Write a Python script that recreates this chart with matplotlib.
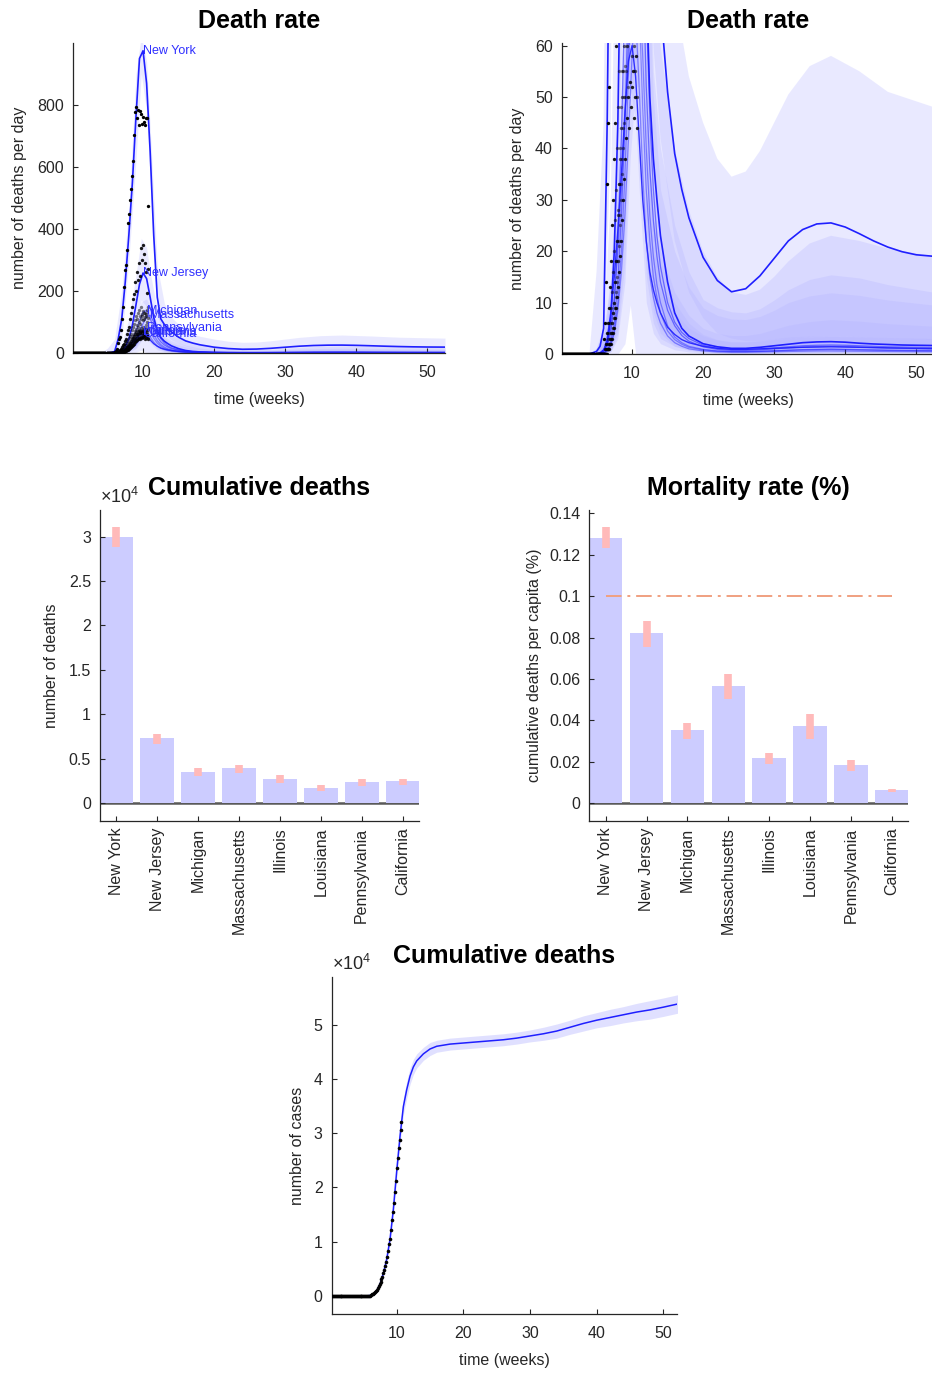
import numpy as np
import matplotlib
matplotlib.use("Agg")
import matplotlib.pyplot as plt

plt.rcParams["font.family"] = ["Liberation Sans", "DejaVu Sans"]
plt.rcParams["mathtext.fontset"] = "custom"
plt.rcParams["mathtext.rm"] = "Liberation Sans"
plt.rcParams["mathtext.it"] = "Liberation Sans:italic"
plt.rcParams["text.color"] = "#262626"
plt.rcParams["axes.labelcolor"] = "#262626"

states = ["New York", "New Jersey", "Michigan", "Massachusetts",
          "Illinois", "Louisiana", "Pennsylvania", "California"]

# ---- model death rate per day (weeks grid) ----
model_weeks = [0.14, 4, 5, 5.5, 6, 6.5, 7, 7.5, 8, 8.5, 9, 9.5, 10, 10.5, 11, 11.5, 12, 12.5, 13, 13.5,
               14, 15, 16, 17, 18, 20, 22, 24, 26, 28, 30, 32, 34, 36, 38, 40, 42, 44, 46, 48, 50, 52.5]
rate_ny = [0, 0, 0.5, 1.5, 5, 45, 110, 230, 380, 550, 760, 950, 975, 870, 650, 380, 180, 110, 92, 80,
           68, 51, 39, 32, 26.5, 18.8, 14.3, 12.1, 12.7, 15.2, 18.6, 22, 24.2, 25.3, 25.5, 24.7, 23.4, 22, 20.8, 19.9, 19.3, 19]
rate_nj = [0, 0, 0, 0.2, 0.8, 2, 7, 20, 45, 90, 155, 222, 258, 240, 180, 115, 72, 50, 38, 30,
           23, 14, 8, 5, 3.5, 2, 1.4, 1.1, 1.1, 1.3, 1.6, 1.9, 2.2, 2.35, 2.4, 2.3, 2.1, 1.95, 1.85, 1.75, 1.7, 1.65]
rate_mi = [0, 0, 0, 0.1, 0.5, 1.5, 4, 10, 22, 42, 70, 105, 132, 137, 112, 78, 52, 36, 26, 19,
           14, 8.5, 5.5, 3.6, 2.5, 1.4, 0.9, 0.7, 0.7, 0.8, 1.0, 1.2, 1.35, 1.45, 1.5, 1.45, 1.35, 1.25, 1.15, 1.1, 1.05, 1.0]
rate_ma = [0, 0, 0, 0, 0.2, 0.8, 2.5, 6, 14, 27, 45, 70, 95, 116, 122, 100, 68, 46, 32, 23,
           17, 10, 6.2, 4.2, 3, 1.7, 1.1, 0.9, 0.9, 1.0, 1.2, 1.4, 1.6, 1.7, 1.75, 1.7, 1.6, 1.5, 1.4, 1.35, 1.3, 1.25]
rate_il = [0, 0, 0, 0, 0.2, 0.6, 1.6, 4, 8.5, 16, 27, 42, 58, 71, 72, 58, 40, 27, 19, 13.5,
           10, 5.5, 3.3, 2.2, 1.5, 0.9, 0.6, 0.5, 0.5, 0.55, 0.65, 0.75, 0.85, 0.9, 0.95, 0.9, 0.85, 0.8, 0.75, 0.72, 0.7, 0.68]
rate_la = [0, 0, 0, 0.1, 0.6, 2, 5, 11, 20, 32, 46, 60, 69, 66, 52, 35, 22, 15, 11, 8,
           6, 3.5, 2.2, 1.5, 1.0, 0.6, 0.4, 0.35, 0.35, 0.4, 0.45, 0.5, 0.55, 0.6, 0.6, 0.58, 0.55, 0.52, 0.5, 0.48, 0.46, 0.45]
rate_pa = [0, 0, 0, 0, 0.2, 0.6, 1.8, 4.5, 10, 20, 35, 55, 74, 80, 68, 48, 32, 22, 15, 11,
           8, 4.5, 2.8, 1.9, 1.3, 0.8, 0.55, 0.45, 0.45, 0.5, 0.6, 0.7, 0.8, 0.85, 0.9, 0.85, 0.8, 0.75, 0.7, 0.68, 0.65, 0.62]
rate_ca = [0, 0, 0, 0.2, 0.6, 3, 8, 15, 24, 35, 47, 57, 60, 54, 42, 30, 22, 16, 12.5, 10,
           8, 5.2, 3.8, 2.8, 2.2, 1.5, 1.1, 0.9, 0.9, 1.0, 1.1, 1.2, 1.3, 1.35, 1.4, 1.35, 1.3, 1.25, 1.2, 1.15, 1.1, 1.05]

# ---- uncertainty bands of the death rate ----
band_weeks = [0.14, 4, 5, 6, 7, 8, 9, 9.75, 10.5, 11, 12, 13, 14, 16, 18, 20, 22, 24, 26, 28,
              30, 32, 35, 38, 42, 46, 52.5]
hi_ny = [0, 0, 16, 45, 200, 470, 900, 1025, 940, 730, 280, 160, 115, 70, 54, 45, 38, 34.5, 35.5, 39.5, 45, 50.5, 56, 58, 55, 51, 48]
lo_ny = [0, 0, 0, 0, 40, 300, 620, 900, 780, 560, 120, 60, 42, 22, 12, 7, 4, 3, 2.5, 2.5, 2.8, 3, 3.3, 3.5, 3.3, 3, 2.8]
hi_nj = [0, 0, 1, 5, 30, 110, 250, 370, 340, 260, 140, 85, 60, 40, 28, 20, 15, 12, 11.5, 12.5, 15, 18, 21.5, 23, 22, 20.5, 19]
lo_nj = [0, 0, 0, 0, 3, 25, 90, 170, 150, 100, 35, 14, 6, 2, 1, 0.5, 0.4, 0.3, 0.3, 0.3, 0.4, 0.4, 0.5, 0.5, 0.5, 0.5, 0.5]
hi_mi = [0, 0, 1, 4, 15, 45, 110, 165, 175, 150, 85, 50, 32, 20, 13, 9, 7.5, 6.8, 6.7, 7.3, 8.5, 10, 11.3, 11.9, 11.4, 10.5, 9.5]
lo_mi = [0, 0, 0, 0, 1, 10, 40, 85, 95, 75, 25, 10, 5, 2, 1, 0.5, 0.3, 0.2, 0.2, 0.2, 0.3, 0.3, 0.3, 0.4, 0.4, 0.3, 0.3]
hi_ma = [0, 0, 0.5, 2, 8, 30, 75, 125, 155, 150, 95, 55, 40, 25, 16, 10.6, 9, 8.2, 8, 8.8, 10.5, 12.5, 14.5, 15.4, 14.8, 13.5, 12]
lo_ma = [0, 0, 0, 0, 0.5, 5, 25, 65, 85, 85, 35, 14, 7, 3, 1.5, 0.8, 0.5, 0.4, 0.4, 0.4, 0.5, 0.5, 0.6, 0.6, 0.6, 0.5, 0.5]
hi_il = [0, 0, 0.5, 2, 6, 18, 42, 75, 92, 88, 55, 28, 18, 10, 6, 3.8, 2.8, 2.4, 2.4, 2.6, 3.0, 3.3, 3.5, 3.6, 3.4, 3.2, 3.0]
lo_il = [0, 0, 0, 0, 0.4, 3, 14, 38, 52, 52, 22, 8, 4, 1.5, 0.7, 0.4, 0.3, 0.2, 0.2, 0.2, 0.2, 0.3, 0.3, 0.3, 0.3, 0.3, 0.3]
hi_la = [0, 0, 1, 3, 12, 30, 62, 85, 80, 62, 30, 16, 12, 6, 3.5, 2.2, 1.6, 1.3, 1.3, 1.5, 1.7, 1.9, 2.1, 2.2, 2.1, 2.0, 1.9]
lo_la = [0, 0, 0, 0, 1, 8, 28, 52, 45, 32, 10, 4, 2, 0.8, 0.4, 0.2, 0.1, 0.1, 0.1, 0.1, 0.1, 0.2, 0.2, 0.2, 0.2, 0.2, 0.2]
hi_pa = [0, 0, 0.5, 2, 7, 22, 55, 90, 100, 85, 45, 25, 20, 12, 7.5, 5, 4, 3.6, 3.6, 4, 4.8, 5.6, 6.3, 6.7, 6.4, 5.9, 5.4]
lo_pa = [0, 0, 0, 0, 0.5, 4, 18, 50, 55, 45, 15, 6, 3, 1.5, 0.8, 0.4, 0.3, 0.2, 0.2, 0.2, 0.3, 0.3, 0.3, 0.3, 0.3, 0.3, 0.3]
hi_ca = [0, 0, 1, 4, 14, 35, 62, 72, 68, 55, 32, 20, 15, 8, 5, 3.5, 2.7, 2.3, 2.3, 2.5, 2.8, 3.1, 3.3, 3.4, 3.3, 3.1, 3.0]
lo_ca = [0, 0, 0, 0, 0, 0, 2, 9.5, 0, 0, 0, 0, 0, 0, 0, 0, 0, 0, 0, 0, 0, 0, 0, 0, 0, 0, 0]

# ---- observed daily deaths (days 1..41 are all zero, then days 42..75) ----
early_obs = [0, 0, 0, 0, 0, 0, 0, 0, 0, 0, 0, 0, 0, 0, 0, 0, 0, 0, 0, 0, 0,
             0, 0, 0, 0, 0, 0, 0, 0, 0, 0, 0, 0, 0, 0, 0, 0, 0, 0, 0, 0]
obs_ny = [3, 6, 14, 33, 45, 52, 75, 110, 150, 214, 268, 284, 332, 419, 450, 494, 530, 571, 620, 703,
          778, 792, 757, 785, 735, 780, 770, 740, 760, 745, 735, 757, 757, 475]
obs_nj = [0, 1, 2, 4, 6, 9, 13, 18, 25, 30, 38, 45, 60, 75, 85, 110, 130, 150, 175, 190,
          230, 200, 260, 235, 290, 250, 340, 300, 350, 320, 290, 260, 195, 270]
obs_mi = [0, 0, 1, 2, 3, 4, 6, 9, 12, 16, 20, 26, 32, 40, 48, 55, 62, 75, 85, 95,
          105, 118, 110, 128, 140, 118, 150, 125, 135, 110, 130, 118, 100, 112]
obs_ma = [0, 0, 0, 1, 1, 2, 3, 4, 6, 8, 10, 14, 18, 22, 28, 33, 40, 48, 55, 62,
          70, 78, 90, 85, 100, 95, 110, 120, 105, 130, 115, 125, 140, 150]
obs_il = [0, 0, 0, 1, 1, 2, 2, 3, 4, 5, 7, 9, 11, 14, 18, 21, 25, 30, 35, 40,
          45, 50, 55, 60, 52, 68, 62, 75, 70, 66, 80, 72, 68, 78]
obs_la = [0, 0, 0, 1, 1, 2, 3, 4, 6, 8, 10, 14, 18, 22, 27, 33, 38, 44, 50, 55,
          60, 68, 62, 70, 75, 65, 72, 68, 58, 66, 60, 55, 62, 50]
obs_pa = [0, 0, 0, 0, 1, 1, 2, 3, 4, 5, 7, 9, 12, 15, 18, 22, 27, 33, 38, 44,
          50, 56, 62, 60, 70, 65, 80, 72, 85, 78, 70, 90, 75, 82]
obs_ca = [0, 0, 0, 0, 1, 1, 2, 2, 3, 4, 5, 7, 9, 11, 13, 16, 19, 22, 26, 30,
          34, 38, 42, 46, 50, 44, 53, 48, 52, 55, 46, 50, 58, 44]

# ---- cumulative deaths and mortality per state ----
cum_deaths = [30000, 7330, 3530, 3900, 2740, 1720, 2370, 2480]
cum_lo = [28800, 6600, 3000, 3400, 2300, 1400, 1950, 2000]
cum_hi = [31100, 7800, 3900, 4300, 3100, 2000, 2700, 2700]
mortality = [0.128, 0.0821, 0.0354, 0.0566, 0.0217, 0.0373, 0.0185, 0.0064]
mortality_lo = [0.1234, 0.0756, 0.0312, 0.0504, 0.0188, 0.0310, 0.0157, 0.0053]
mortality_hi = [0.1333, 0.0882, 0.0389, 0.0623, 0.0241, 0.0430, 0.0208, 0.0070]
mortality_ref = 0.1

# ---- total cumulative deaths ----
total_weeks = [0.14, 4, 5, 6, 6.5, 7, 7.5, 8, 8.5, 9, 9.5, 10, 10.5, 11, 11.5, 12, 12.5, 13, 14, 15,
               16, 18, 20, 22, 24, 26, 28, 30, 32, 34, 36, 38, 40, 42, 44, 46, 48, 50, 52.2]
total_model = [0, 0, 0, 100, 300, 1000, 2200, 4200, 6800, 10500, 16000, 23000, 29500, 34900, 38000,
               40500, 42200, 43300, 44600, 45500, 46000, 46400, 46600, 46800, 47000, 47200, 47500,
               47900, 48300, 48800, 49500, 50200, 50800, 51300, 51800, 52300, 52700, 53200, 53800]
total_hi = [0, 0, 0, 200, 500, 1300, 2700, 4800, 7600, 11400, 17200, 24400, 31000, 36400, 39600,
            42000, 43600, 44600, 45800, 46700, 47100, 47500, 47700, 47900, 48100, 48300, 48600,
            49000, 49500, 50100, 50800, 51600, 52200, 52800, 53300, 53900, 54400, 54900, 55500]
total_lo = [0, 0, 0, 0, 100, 700, 1700, 3600, 6000, 9600, 14800, 21600, 28000, 33400, 36400,
            39000, 40800, 42000, 43400, 44300, 44900, 45300, 45500, 45700, 45900, 46100, 46400,
            46800, 47100, 47500, 48200, 48800, 49400, 49800, 50300, 50700, 51000, 51500, 52100]
total_obs = [100, 200, 300, 400, 600, 800, 1000, 1200, 1500, 1800, 2200, 2600, 3100, 3600, 4200,
             4800, 5500, 6200, 7200, 8300, 9500, 10500, 12200, 14000, 15500, 17200, 19200, 21200,
             23500, 25500, 27200, 28800, 30500, 32000]

rate = dict(zip(states, [rate_ny, rate_nj, rate_mi, rate_ma, rate_il, rate_la, rate_pa, rate_ca]))
band_hi = dict(zip(states, [hi_ny, hi_nj, hi_mi, hi_ma, hi_il, hi_la, hi_pa, hi_ca]))
band_lo = dict(zip(states, [lo_ny, lo_nj, lo_mi, lo_ma, lo_il, lo_la, lo_pa, lo_ca]))
obs = dict(zip(states, [obs_ny, obs_nj, obs_mi, obs_ma, obs_il, obs_la, obs_pa, obs_ca]))

# styles
blue = "#1f1fff"
band_color = "#b3b3ff"
line_w = dict(zip(states, [1.2, 1.2, 0.9, 0.9, 0.9, 0.9, 0.9, 1.0]))
line_a = dict(zip(states, [1.0, 1.0, 0.55, 0.55, 0.45, 0.45, 0.45, 0.9]))
dot_a = dict(zip(states, [1.0, 0.9, 0.5, 0.5, 0.45, 0.6, 0.45, 0.85]))
title_kw = dict(fontsize=18, fontweight="bold", color="k", pad=10.5)

obs_weeks = np.arange(1, 76) / 7


def style_axes(ax, xpad=8.5):
    for s in ["top", "right"]:
        ax.spines[s].set_visible(False)
    for s in ["left", "bottom"]:
        ax.spines[s].set_color("#262626")
        ax.spines[s].set_linewidth(0.9)
    ax.tick_params(direction="in", length=3.5, width=0.8, colors="#262626", labelsize=11.5)
    ax.tick_params(axis="y", pad=6.5)
    ax.tick_params(axis="x", pad=xpad)


def draw_rates(ax, with_labels):
    for st in states:
        ax.fill_between(band_weeks, band_lo[st], band_hi[st], color=band_color, alpha=0.28, lw=0, zorder=1)
    for st in states:
        ax.plot(model_weeks, rate[st], color=blue, lw=line_w[st], alpha=line_a[st], zorder=2)
    for st in states:
        ax.plot(obs_weeks, early_obs + obs[st], "o", ms=2.4, color="k", mec="none",
                alpha=dot_a[st], zorder=3)
    if with_labels:
        for st in states:
            i = int(np.argmax(rate[st]))
            ax.text(model_weeks[i], rate[st][i], st, color="#3030ff", fontsize=9,
                    ha="left", va="center", zorder=4)
    ax.set_xlim(0.14, 52.5)
    ax.set_xticks([10, 20, 30, 40, 50])
    ax.set_xlabel("time (weeks)", fontsize=11.5, labelpad=9)
    ax.set_ylabel("number of deaths per day", fontsize=11.5, labelpad=7)
    ax.set_title("Death rate", **title_kw)
    style_axes(ax)


def draw_bars(ax, values, lo, hi, scale):
    x = np.arange(1, len(states) + 1)
    ax.axhline(0, color="#595959", lw=1.8, zorder=0)
    ax.bar(x, np.array(values) / scale, width=0.82, color="#ccccff", zorder=1)
    ax.vlines(x, np.array(lo) / scale, np.array(hi) / scale, color="#ffbaba", lw=5.5, zorder=2)
    ax.set_xlim(0.6, 8.4)
    ax.set_xticks(x)
    ax.set_xticklabels(states, rotation=90, fontsize=11.5)
    style_axes(ax, xpad=5)
    return x


fig = plt.figure(figsize=(9.32, 13.74), dpi=100)
W, H = 932, 1374

ax1 = fig.add_axes([73 / W, 1 - 353 / H, 372 / W, 310 / H])
draw_rates(ax1, True)
ax1.set_ylim(0, 1000)
ax1.set_yticks([0, 200, 400, 600, 800])

ax2 = fig.add_axes([562 / W, 1 - 354 / H, 372 / W, 311 / H])
draw_rates(ax2, False)
ax2.set_ylim(0, 60.5)
ax2.set_yticks([0, 10, 20, 30, 40, 50, 60])

ax3 = fig.add_axes([100 / W, 1 - 820.7 / H, 319 / W, 310.7 / H])
draw_bars(ax3, cum_deaths, cum_lo, cum_hi, 1e4)
ax3.set_ylim(-0.2, 3.3)
ax3.set_yticks([0, 0.5, 1, 1.5, 2, 2.5, 3])
ax3.set_yticklabels(["0", "0.5", "1", "1.5", "2", "2.5", "3"])
ax3.set_ylabel("number of deaths", fontsize=11.5, labelpad=7)
ax3.set_title("Cumulative deaths", **title_kw)
ax3.text(0, 1.01, r"$\times10^{4}$", transform=ax3.transAxes, ha="left", va="bottom", fontsize=13)

ax4 = fig.add_axes([589.3 / W, 1 - 820.7 / H, 319 / W, 310.7 / H])
xb = draw_bars(ax4, mortality, mortality_lo, mortality_hi, 1)
ax4.hlines(mortality_ref, xb[0], xb[-1], color="#f0a080", lw=1.4,
           linestyles=[(0, (8, 3, 1.5, 3))], zorder=3)
ax4.set_ylim(-0.0084, 0.1416)
ax4.set_yticks([0, 0.02, 0.04, 0.06, 0.08, 0.1, 0.12, 0.14])
ax4.set_yticklabels(["0", "0.02", "0.04", "0.06", "0.08", "0.1", "0.12", "0.14"])
ax4.set_ylabel("cumulative deaths per capita (%)", fontsize=11.5, labelpad=5)
ax4.set_title("Mortality rate (%)", **title_kw)

ax5 = fig.add_axes([331.7 / W, 1 - 1314 / H, 345 / W, 336.7 / H])
ax5.fill_between(total_weeks, np.array(total_lo) / 1e4, np.array(total_hi) / 1e4,
                 color=band_color, alpha=0.4, lw=0, zorder=1)
ax5.plot(total_weeks, np.array(total_model) / 1e4, color=blue, lw=1.1, zorder=2)
ax5.plot(obs_weeks, np.array(early_obs + total_obs) / 1e4, "o", ms=2.6, color="k", mec="none", zorder=3)
ax5.set_xlim(0.25, 52)
ax5.set_ylim(-0.33, 5.87)
ax5.set_xticks([10, 20, 30, 40, 50])
ax5.set_yticks([0, 1, 2, 3, 4, 5])
ax5.set_xlabel("time (weeks)", fontsize=11.5, labelpad=9)
ax5.set_ylabel("number of cases", fontsize=11.5, labelpad=6)
ax5.set_title("Cumulative deaths", **title_kw)
ax5.text(0, 1.01, r"$\times10^{4}$", transform=ax5.transAxes, ha="left", va="bottom", fontsize=13)
style_axes(ax5)

fig.savefig("out.png", dpi=100, facecolor="white")
